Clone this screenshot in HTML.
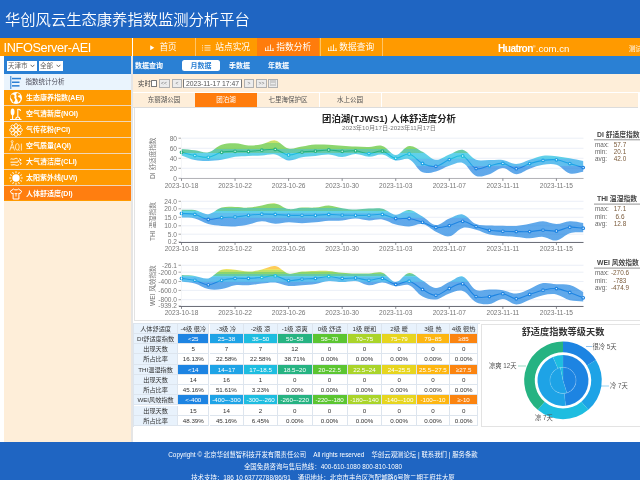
<!DOCTYPE html>
<html lang="zh-CN">
<head>
<meta charset="utf-8">
<title>华创风云生态康养指数监测分析平台</title>
<style>
*{margin:0;padding:0;box-sizing:border-box}
html,body{width:640px;height:480px;overflow:hidden;background:#fff}
body{position:relative;font-family:"Liberation Sans","Noto Sans CJK SC",sans-serif;color:#333}
.a{position:absolute}
#hdr{left:0;top:0;width:640px;height:38px;background:#1f65c2}
#hdr .t{left:5px;top:8px;font-size:15.3px;line-height:20px;color:#fff;white-space:nowrap;font-family:"Noto Sans CJK SC",sans-serif;letter-spacing:0;font-weight:350}
#ob{left:0;top:38px;width:640px;height:18px;background:#ff9a00}
#ob .brand{left:3.5px;top:1px;font-size:12.7px;line-height:18px;color:#fff;white-space:nowrap;letter-spacing:-0.35px}
.nav{top:1px;height:17px;width:62px;color:#fff;font-size:8.7px;line-height:17px;text-align:center;white-space:nowrap;font-family:"Liberation Sans","Noto Sans CJK SC",sans-serif}
.nav.on{background:#ff7c0c;top:0;height:18px;line-height:19px}
.nsep{top:0;width:1px;height:18px;background:#ffc466}
#side{left:4px;top:56px;width:127.3px;height:386px;background:#feeed9}
#selbar{left:4px;top:56px;width:127.6px;height:17.5px;background:#2a80d4}
.sel{top:61px;height:9.5px;background:#fff;font-size:6.5px;line-height:9.5px;color:#333;padding-left:1px;white-space:nowrap}
#stat{left:4px;top:73.5px;width:127.5px;height:16px;background:#eaf4fd}
.mi{left:4px;width:127px;height:15px;background:#ff9a00;color:#fff;font-weight:bold;font-size:7px;line-height:15px;white-space:nowrap}
.mi.on{background:#ff7e10}
.mi span{position:absolute;left:22px;top:0}
.mi svg{position:absolute;left:5px;top:0.6px}
#subnav{left:133px;top:56px;width:507px;height:17.5px;background:#2a80d4}
.sn{top:57px;height:17.5px;line-height:17.5px;font-size:7px;color:#fff;font-weight:bold;white-space:nowrap}
#ctl{left:133px;top:73.5px;width:507px;height:18.5px;background:#feeed9}
#tabs{left:133px;top:92.5px;width:505px;height:15.5px;background:#feeed9;border-bottom:1px solid #dcdcdc}
.tab{top:92.5px;height:14px;line-height:14px;font-size:6.5px;color:#555;text-align:center;white-space:nowrap}
.tab.on{background:#ff7c0c;color:#fff}
.btn{top:79.2px;height:8.4px;background:#ececec;border:0.6px solid #b0b0b0;font-size:5px;line-height:7.4px;text-align:center;color:#777}
#cbox{left:134px;top:108px;width:506px;height:212.5px;background:#fff;border-left:1px solid #e3e3e3;border-bottom:1px solid #e3e3e3}
#ttl{left:135.5px;width:507px;top:111.5px;text-align:center;font-size:9.4px;font-weight:bold;color:#222;line-height:14px;white-space:nowrap}
#sub{left:135.5px;width:507px;top:124px;text-align:center;font-size:6.2px;color:#777;line-height:8px;white-space:nowrap}
svg text{font-family:"Liberation Sans","Noto Sans CJK SC",sans-serif}
.yt{font-size:6.6px;fill:#777;text-anchor:end}
.xt{font-size:6.6px;fill:#777;text-anchor:middle}
.ytt{font-size:6.6px;fill:#777;text-anchor:middle}
.lgt{font-size:6.8px;fill:#444;font-weight:bold}
.lgk{font-size:6.4px;fill:#666}
.lgv{font-size:6.4px;fill:#7a5a3a;text-anchor:middle}
.tc{position:absolute;font-size:6.2px;text-align:center;white-space:nowrap;overflow:hidden;border-right:0.8px solid #dde5ee;border-bottom:0.8px solid #dde5ee}
#tblwrap{left:133px;top:323px;width:347px;height:104px}
#pie{left:481px;top:323.5px;width:159px;height:103.5px;border:1px solid #e3e3e3;border-right:none;background:#fff}
#pieT{left:481px;width:164px;top:325.6px;text-align:center;font-size:9.2px;font-weight:bold;color:#333;line-height:12px;white-space:nowrap}
.pl{font-size:6.3px;fill:#555}
#ftr{left:0;top:442px;width:640px;height:38px;background:#1f65c2}
.fl{left:0;width:646px;text-align:center;color:#fff;font-size:6.4px;line-height:8px;white-space:nowrap}
</style>
</head>
<body>
<div id="hdr" class="a"><div class="t a">华创风云生态康养指数监测分析平台</div></div>

<div id="ob" class="a">
  <div class="brand a">INFOServer-AEI</div>
  <div class="nsep a" style="left:132px;background:#fff"></div>
  <div class="nav a" style="left:133px;width:62px"></div><svg class="a" style="left:150.3px;top:7px" width="4.5" height="5.5" viewBox="0 0 4.5 5.5"><path d="M0.2 0.2L4.3 2.75L0.2 5.3Z" fill="#fff"/></svg><div class="a" style="left:159.4px;top:1px;font-size:8.6px;line-height:17px;color:#fff;white-space:nowrap">首页</div>
  <div class="nsep a" style="left:194.5px"></div>
  <svg class="a" style="left:201.7px;top:7px" width="9" height="6" viewBox="0 0 9 6"><g fill="#fff" opacity="0.9"><rect x="0" y="0.3" width="0.9" height="0.9"/><rect x="0" y="2.5" width="0.9" height="0.9"/><rect x="0" y="4.7" width="0.9" height="0.9"/><rect x="2.5" y="0.3" width="6" height="0.8"/><rect x="2.5" y="2.5" width="6" height="0.8"/><rect x="2.5" y="4.7" width="6" height="0.8"/></g></svg><div class="a" style="left:215.3px;top:1px;font-size:8.7px;line-height:17px;color:#fff;white-space:nowrap">站点实况</div>
  <div class="nsep a" style="left:256.5px"></div>
  <div class="nav a on" style="left:257px"><svg width="9" height="7" viewBox="0 0 9 7" style="vertical-align:-0.5px"><path d="M0.5 7V3.5M3 7V2M5.5 7V0.5M8 7V4M0 6.7H9" stroke="#fff" stroke-width="0.8" fill="none"/></svg> 指数分析</div>
  <div class="nsep a" style="left:319.5px"></div>
  <div class="nav a" style="left:320px"><svg width="9" height="7" viewBox="0 0 9 7" style="vertical-align:-0.5px"><path d="M0.5 7V3.5M3 7V2M5.5 7V0.5M8 7V4M0 6.7H9" stroke="#fff" stroke-width="0.8" fill="none"/></svg> 数据查询</div>
  <div class="nsep a" style="left:381.5px"></div>
  <div class="a" style="left:498px;top:0.3px;line-height:18px;font-size:10px;color:#fff;white-space:nowrap"><b style="font-size:10.2px;letter-spacing:-0.6px">Huatron</b><span style="font-size:4px;vertical-align:4px">&reg;</span><span style="font-size:9.6px">.com.cn</span></div>
  <div class="a" style="left:629px;top:2px;line-height:18px;font-size:6.5px;color:#fff;white-space:nowrap">测试</div>
</div>

<!-- sidebar -->
<div id="side" class="a"></div>
<div id="selbar" class="a"></div>
<div class="sel a" style="left:7px;width:30px;color:#666">天津市<svg width="5" height="4" viewBox="0 0 5 4" style="position:absolute;right:2.5px;top:3px"><path d="M0.6 0.8L2.5 2.8L4.4 0.8" stroke="#555" stroke-width="0.9" fill="none"/></svg></div>
<div class="sel a" style="left:39px;width:24px;color:#666">全部<svg width="5" height="4" viewBox="0 0 5 4" style="position:absolute;right:2.5px;top:3px"><path d="M0.6 0.8L2.5 2.8L4.4 0.8" stroke="#555" stroke-width="0.9" fill="none"/></svg></div>
<div id="stat" class="a">
  <svg class="a" style="left:5.5px;top:2.5px" width="12" height="14" viewBox="0 0 12 14"><rect x="0.3" y="0" width="1" height="13" fill="#2a7fd4"/><rect x="2" y="1.8" width="9" height="1.5" fill="#2a7fd4"/><rect x="2" y="5.5" width="7.5" height="1.5" fill="#2a7fd4"/><rect x="2" y="9.1" width="7.5" height="1.5" fill="#2a7fd4"/></svg>
  <div class="a" style="left:21.5px;top:0.5px;line-height:16px;font-size:6.5px;color:#4a4a58;white-space:nowrap">指数统计分析</div>
</div>
<div class="a" style="left:4px;top:90px;width:127px;height:110.6px;background:#f1d7b6"></div>
<div class="mi a" style="top:90px;height:15.0px"><svg width="14" height="14" viewBox="0 0 14 14"><circle cx="7" cy="7" r="6.1" fill="#fff"/><path d="M2.6 3.6C3.8 3.1 5 3.5 5.5 4.4C5.9 5.3 4.9 5.8 5.3 6.8C5.7 7.8 6.5 8.3 6.1 9.4C5.7 10.4 4.7 10.8 4.3 11.8C3.5 10.8 3.6 9.6 3 8.6C2.4 7.7 1.4 7.2 1.5 6C1.6 5 2 4.2 2.6 3.6Z" fill="#ff9a00"/><path d="M8.2 1.9C9.5 2.2 10.6 2.9 11.3 3.9C10.4 4.3 9.5 4.1 9.1 4.9C8.7 5.7 9.7 6.2 10.5 6.5C11.5 6.9 11.8 7.9 11.3 8.9C10.8 10 9.7 10.4 9.3 11.4C8.6 10.5 8.8 9.3 8.2 8.5C7.6 7.7 7.1 6.9 7.5 5.9C7.9 4.9 7 4 7.2 3C7.4 2.5 7.7 2.1 8.2 1.9Z" fill="#ff9a00"/></svg><span>生态康养指数(AEI)</span></div>
<div class="mi a" style="top:106px;height:15.0px"><svg width="14" height="14" viewBox="0 0 14 14"><ellipse cx="3.6" cy="5" rx="1.9" ry="3.4" fill="#fff"/><path d="M3.6 7v5.2M1 12.5h11.5M8.8 2v8.5M8.8 2.3c1.6-0.4 2.6 0.4 2.6 1.6M6.8 12.3c0-1.6 1-2.3 2-2.3s2 0.7 2 2.3" stroke="#fff" stroke-width="1.1" fill="none"/></svg><span>空气清新度(NOI)</span></div>
<div class="mi a" style="top:122px;height:15.0px"><svg width="14" height="14" viewBox="0 0 14 14"><g fill="#ff9a00" stroke="#fff" stroke-width="0.85"><ellipse cx="7" cy="2.6" rx="1.6" ry="2" transform="rotate(0 7 7)"/><ellipse cx="7" cy="2.6" rx="1.6" ry="2" transform="rotate(45 7 7)"/><ellipse cx="7" cy="2.6" rx="1.6" ry="2" transform="rotate(90 7 7)"/><ellipse cx="7" cy="2.6" rx="1.6" ry="2" transform="rotate(135 7 7)"/><ellipse cx="7" cy="2.6" rx="1.6" ry="2" transform="rotate(180 7 7)"/><ellipse cx="7" cy="2.6" rx="1.6" ry="2" transform="rotate(225 7 7)"/><ellipse cx="7" cy="2.6" rx="1.6" ry="2" transform="rotate(270 7 7)"/><ellipse cx="7" cy="2.6" rx="1.6" ry="2" transform="rotate(315 7 7)"/><circle cx="7" cy="7" r="1.7"/></g></svg><span>气传花粉(PCI)</span></div>
<div class="mi a" style="top:138px;height:15.0px"><svg width="14" height="14" viewBox="0 0 14 14"><g stroke="#fff" stroke-width="0.7" fill="none"><circle cx="3.2" cy="2.6" r="1"/><path d="M0.8 11.5L3.2 4.3L5.6 11.5M1.7 8.8h3"/><ellipse cx="8.3" cy="7.9" rx="1.9" ry="3.3"/><path d="M9.2 10.3l1.2 1.6M12.4 4.6v7"/></g></svg><span>空气质量(AQI)</span></div>
<div class="mi a" style="top:154px;height:15.0px"><svg width="14" height="14" viewBox="0 0 14 14"><g stroke="#fff" stroke-width="1" fill="none"><path d="M1.5 4.2c1.2-1 2.4 0.6 3.8-0.2s2.4-1 3.4 0"/><path d="M1.5 7.2h6.5c1.6 0 2-1.6 0.9-2.2"/><path d="M1.8 9.8c1.4 0.6 3-0.6 4.6 0.2s2.6 0.4 3.6-0.6"/><path d="M10 3.5l2.2 1.5-1.6 1M10.4 7.3l2 1.2-1.4 1"/></g></svg><span>大气清洁度(CLI)</span></div>
<div class="mi a" style="top:170px;height:15.0px"><svg width="14" height="14" viewBox="0 0 14 14"><circle cx="7" cy="7" r="3.7" fill="#fff"/><g stroke="#fff" stroke-width="0.9" stroke-linecap="round"><path d="M7 0.6v1.2" transform="rotate(0 7 7)"/><path d="M7 0.6v1.2" transform="rotate(30 7 7)"/><path d="M7 0.6v1.2" transform="rotate(60 7 7)"/><path d="M7 0.6v1.2" transform="rotate(90 7 7)"/><path d="M7 0.6v1.2" transform="rotate(120 7 7)"/><path d="M7 0.6v1.2" transform="rotate(150 7 7)"/><path d="M7 0.6v1.2" transform="rotate(180 7 7)"/><path d="M7 0.6v1.2" transform="rotate(210 7 7)"/><path d="M7 0.6v1.2" transform="rotate(240 7 7)"/><path d="M7 0.6v1.2" transform="rotate(270 7 7)"/><path d="M7 0.6v1.2" transform="rotate(300 7 7)"/><path d="M7 0.6v1.2" transform="rotate(330 7 7)"/></g></svg><span>太阳紫外线(UVI)</span></div>
<div class="mi a on" style="top:186px;height:14.6px"><svg width="14" height="14" viewBox="0 0 14 14"><path d="M4.6 2L1.3 4.2l1.6 2.6 1.2-0.7V12h5.8V6.1l1.2 0.7 1.6-2.6L9.4 2C8.9 3.2 5.1 3.2 4.6 2z" fill="none" stroke="#fff" stroke-width="1"/><path d="M5.6 6.6h2.8M7 6.6v3" stroke="#fff" stroke-width="0.9"/></svg><span>人体舒适度(DI)</span></div>
<div class="a" style="left:4px;top:200px;width:127px;height:0.8px;background:#ff9a00"></div>
<div class="a" style="left:131.4px;top:56px;width:1.6px;height:386px;background:#e5e5e5"></div>

<!-- main -->
<div id="subnav" class="a"></div>
<div class="sn a" style="left:135px">数据查询</div>
<div class="a" style="left:182px;top:60px;width:38px;height:11px;background:#fff;border-radius:2.5px;color:#2a80d4;font-size:7px;line-height:11px;text-align:center;font-weight:bold;white-space:nowrap">月数据</div>
<div class="sn a" style="left:229px">季数据</div>
<div class="sn a" style="left:268px">年数据</div>

<div id="ctl" class="a"></div>
<div class="a" style="left:138px;top:78.5px;font-size:6.4px;line-height:10px;color:#444;white-space:nowrap">实时</div>
<div class="a" style="left:151px;top:80.3px;width:5.7px;height:6.6px;background:#fff;border:0.7px solid #777;border-radius:0.5px"></div>
<div class="btn a" style="left:158.5px;width:11px">&lt;&lt;</div>
<div class="btn a" style="left:172px;width:10px">&lt;</div>
<div class="a" style="left:183px;top:79px;width:59px;height:8.8px;background:#fff;border:0.6px solid #bbb;border-left:1px solid #777;border-right:1px solid #777;font-size:6.8px;line-height:7.8px;color:#555;text-align:center;white-space:nowrap;overflow:hidden">2023-11-17 17:47</div>
<div class="btn a" style="left:244px;width:10px">&gt;</div>
<div class="btn a" style="left:256px;width:11px">&gt;&gt;</div>
<div class="btn a" style="left:268px;width:10px;font-size:6px;line-height:6px">&#9636;</div>

<div id="tabs" class="a"></div>
<div class="tab a" style="left:133px;width:62px">东丽湖公园</div>
<div class="a" style="left:194.5px;top:92.5px;width:0.8px;height:14px;background:#fff"></div>
<div class="tab a on" style="left:195px;width:62px">团泊湖</div>
<div class="tab a" style="left:257px;width:62px">七里海保护区</div>
<div class="a" style="left:318.5px;top:92.5px;width:0.8px;height:14px;background:#fff"></div>
<div class="tab a" style="left:319px;width:62px">水上公园</div>
<div class="a" style="left:380.5px;top:92.5px;width:0.8px;height:14px;background:#fff"></div>
<div class="a" style="left:133px;top:92px;width:507px;height:0.8px;background:#fff"></div>

<div id="cbox" class="a"></div>
<div id="ttl" class="a" style="font-family:'Liberation Sans','Noto Sans CJK SC',sans-serif">团泊湖(TJWS1) 人体舒适度分析</div>
<div id="sub" class="a">2023年10月17日-2023年11月17日</div>

<svg class="a" style="left:0;top:0" width="640" height="480" viewBox="0 0 640 480">
<defs><linearGradient id="c1a" gradientUnits="userSpaceOnUse" x1="0" y1="120.00" x2="0" y2="320.00"><stop offset="0.0000" stop-color="#fb8410"/><stop offset="0.0790" stop-color="#fb8410"/><stop offset="0.0790" stop-color="#fdb612"/><stop offset="0.0940" stop-color="#fdb612"/><stop offset="0.0940" stop-color="#e7d51f"/><stop offset="0.1040" stop-color="#e7d51f"/><stop offset="0.1040" stop-color="#aad42a"/><stop offset="0.1165" stop-color="#aad42a"/><stop offset="0.1165" stop-color="#5cc531"/><stop offset="0.1465" stop-color="#5cc531"/><stop offset="0.1465" stop-color="#26b382"/><stop offset="0.1665" stop-color="#26b382"/><stop offset="0.1665" stop-color="#1ebde0"/><stop offset="0.1965" stop-color="#1ebde0"/><stop offset="0.1965" stop-color="#1ea3e6"/><stop offset="0.2290" stop-color="#1ea3e6"/><stop offset="0.2290" stop-color="#1d84e2"/><stop offset="1.0000" stop-color="#1d84e2"/></linearGradient></defs>
<line x1="181.5" y1="138.20" x2="583.5" y2="138.20" stroke="#e6ebf5" stroke-width="0.8"/>
<line x1="178.5" y1="138.20" x2="181" y2="138.20" stroke="#888" stroke-width="0.7"/>
<text x="177" y="140.60" class="yt">80</text>
<line x1="181.5" y1="148.30" x2="583.5" y2="148.30" stroke="#e6ebf5" stroke-width="0.8"/>
<line x1="178.5" y1="148.30" x2="181" y2="148.30" stroke="#888" stroke-width="0.7"/>
<text x="177" y="150.70" class="yt">60</text>
<line x1="181.5" y1="158.30" x2="583.5" y2="158.30" stroke="#e6ebf5" stroke-width="0.8"/>
<line x1="178.5" y1="158.30" x2="181" y2="158.30" stroke="#888" stroke-width="0.7"/>
<text x="177" y="160.70" class="yt">40</text>
<line x1="181.5" y1="168.30" x2="583.5" y2="168.30" stroke="#e6ebf5" stroke-width="0.8"/>
<line x1="178.5" y1="168.30" x2="181" y2="168.30" stroke="#888" stroke-width="0.7"/>
<text x="177" y="170.70" class="yt">20</text>
<line x1="181.5" y1="178.30" x2="583.5" y2="178.30" stroke="#e6ebf5" stroke-width="0.8"/>
<line x1="178.5" y1="178.30" x2="181" y2="178.30" stroke="#888" stroke-width="0.7"/>
<text x="177" y="180.70" class="yt">0</text>
<path d="M181.50,148.90 C186.19,149.35 190.22,149.61 194.89,150.20 C199.59,150.80 203.88,153.19 208.28,152.30 C213.26,151.30 216.68,146.48 221.67,144.80 C226.05,143.33 230.39,143.18 235.06,143.30 C239.76,143.42 243.74,145.34 248.45,145.50 C253.12,145.66 257.23,145.08 261.84,144.20 C266.61,143.29 270.83,139.68 275.23,140.40 C280.20,141.22 283.59,147.43 288.62,148.60 C292.96,149.60 297.32,147.30 302.01,146.60 C306.70,145.90 310.69,144.92 315.40,144.60 C320.06,144.29 324.11,144.61 328.79,144.80 C333.48,144.99 337.49,145.38 342.18,145.70 C346.87,146.01 350.88,146.37 355.57,146.60 C360.25,146.83 364.28,147.10 368.96,147.00 C373.65,146.89 378.09,144.73 382.35,146.00 C387.47,147.53 391.05,155.00 395.74,155.00 C400.43,155.00 404.20,146.61 409.13,146.00 C413.58,145.45 418.00,149.37 422.52,151.70 C427.38,154.20 431.03,159.29 435.91,159.80 C440.40,160.27 444.58,156.26 449.30,154.50 C453.95,152.76 458.39,148.95 462.69,149.80 C467.76,150.80 470.88,157.80 476.08,159.80 C480.25,161.40 484.78,160.05 489.47,160.10 C494.16,160.15 498.27,159.43 502.86,160.10 C507.64,160.80 511.58,164.05 516.25,164.00 C520.95,163.95 524.95,161.25 529.64,159.80 C534.32,158.36 538.24,156.39 543.03,155.75 C547.62,155.13 551.76,155.76 556.42,156.20 C561.13,156.64 565.14,157.43 569.81,158.25 C574.51,159.08 578.51,159.97 583.20,160.90 L583.20,171.80 C578.51,172.36 574.11,174.52 569.81,173.40 C564.74,172.07 561.51,166.43 556.42,164.80 C552.14,163.42 547.62,164.13 543.03,164.80 C538.25,165.50 534.24,167.09 529.64,168.70 C524.87,170.38 520.89,174.32 516.25,174.20 C511.52,174.08 507.55,168.00 502.86,168.00 C498.17,168.00 494.36,172.74 489.47,174.20 C484.99,175.54 480.02,177.65 476.08,176.00 C470.64,173.73 468.10,165.06 462.69,163.00 C458.73,161.49 453.85,164.37 449.30,165.80 C444.47,167.31 440.78,170.22 435.91,171.40 C431.41,172.49 426.43,174.08 422.52,172.30 C417.06,169.81 414.59,161.60 409.13,159.20 C405.21,157.47 400.22,161.29 395.74,160.50 C390.85,159.64 387.22,155.17 382.35,154.50 C377.84,153.88 373.63,156.87 368.96,156.80 C364.26,156.73 360.25,154.07 355.57,154.10 C350.88,154.14 346.88,156.93 342.18,157.00 C337.51,157.07 333.50,154.68 328.79,154.50 C324.13,154.33 320.09,155.51 315.40,156.00 C310.72,156.49 306.64,156.52 302.01,157.30 C297.27,158.10 293.16,160.97 288.62,160.50 C283.78,159.99 280.12,155.41 275.23,154.50 C270.75,153.66 266.53,155.24 261.84,155.50 C257.16,155.76 253.13,155.77 248.45,156.00 C243.76,156.23 239.69,156.14 235.06,156.80 C230.32,157.47 226.40,159.06 221.67,159.80 C217.03,160.53 212.97,160.95 208.28,161.00 C203.60,161.05 199.45,161.04 194.89,160.10 C190.08,159.11 186.19,157.11 181.50,155.50 Z" fill="url(#c1a)" fill-opacity="0.7"/>
<path d="M181.50,152.30 C186.19,153.42 190.16,154.62 194.89,155.50 C199.53,156.37 203.73,157.84 208.28,157.30 C213.10,156.72 216.84,153.38 221.67,152.30 C226.21,151.28 230.37,151.44 235.06,151.30 C239.74,151.16 243.77,151.69 248.45,151.50 C253.15,151.31 257.15,150.57 261.84,150.20 C266.52,149.83 270.73,148.59 275.23,149.40 C280.10,150.27 283.80,154.51 288.62,155.00 C293.17,155.46 297.28,152.79 302.01,152.10 C306.65,151.42 310.71,151.47 315.40,151.10 C320.09,150.73 324.11,149.97 328.79,150.00 C333.48,150.04 337.48,151.16 342.18,151.30 C346.86,151.44 350.93,150.40 355.57,150.80 C360.31,151.21 364.26,153.55 368.96,153.60 C373.64,153.65 377.92,150.32 382.35,151.10 C387.29,151.97 390.87,157.77 395.74,158.30 C400.24,158.79 404.81,153.16 409.13,154.00 C414.18,154.98 417.41,161.15 422.52,163.50 C426.78,165.46 431.44,166.95 435.91,166.30 C440.81,165.59 444.43,161.47 449.30,159.60 C453.81,157.87 458.66,154.65 462.69,156.00 C468.03,157.80 470.71,166.63 476.08,168.60 C480.08,170.06 484.77,166.71 489.47,165.80 C494.14,164.89 498.31,162.91 502.86,163.40 C507.68,163.92 511.55,168.66 516.25,168.70 C520.92,168.73 524.86,165.08 529.64,163.60 C534.23,162.18 538.28,161.07 543.03,160.40 C547.65,159.74 551.82,159.25 556.42,159.80 C561.19,160.37 565.13,162.24 569.81,163.60 C574.51,164.97 578.51,166.20 583.20,167.60" fill="none" stroke="url(#c1a)" stroke-width="1.1"/>
<circle cx="181.50" cy="152.30" r="1.3" fill="#fff" stroke="#26b382" stroke-width="1.2"/>
<circle cx="194.89" cy="155.50" r="1.3" fill="#fff" stroke="#1ebde0" stroke-width="1.2"/>
<circle cx="208.28" cy="157.30" r="1.3" fill="#fff" stroke="#1ebde0" stroke-width="1.2"/>
<circle cx="221.67" cy="152.30" r="1.3" fill="#fff" stroke="#26b382" stroke-width="1.2"/>
<circle cx="235.06" cy="151.30" r="1.3" fill="#fff" stroke="#26b382" stroke-width="1.2"/>
<circle cx="248.45" cy="151.50" r="1.3" fill="#fff" stroke="#26b382" stroke-width="1.2"/>
<circle cx="261.84" cy="150.20" r="1.3" fill="#fff" stroke="#26b382" stroke-width="1.2"/>
<circle cx="275.23" cy="149.40" r="1.3" fill="#fff" stroke="#26b382" stroke-width="1.2"/>
<circle cx="288.62" cy="155.00" r="1.3" fill="#fff" stroke="#1ebde0" stroke-width="1.2"/>
<circle cx="302.01" cy="152.10" r="1.3" fill="#fff" stroke="#26b382" stroke-width="1.2"/>
<circle cx="315.40" cy="151.10" r="1.3" fill="#fff" stroke="#26b382" stroke-width="1.2"/>
<circle cx="328.79" cy="150.00" r="1.3" fill="#fff" stroke="#26b382" stroke-width="1.2"/>
<circle cx="342.18" cy="151.30" r="1.3" fill="#fff" stroke="#26b382" stroke-width="1.2"/>
<circle cx="355.57" cy="150.80" r="1.3" fill="#fff" stroke="#26b382" stroke-width="1.2"/>
<circle cx="368.96" cy="153.60" r="1.3" fill="#fff" stroke="#1ebde0" stroke-width="1.2"/>
<circle cx="382.35" cy="151.10" r="1.3" fill="#fff" stroke="#26b382" stroke-width="1.2"/>
<circle cx="395.74" cy="158.30" r="1.3" fill="#fff" stroke="#1ebde0" stroke-width="1.2"/>
<circle cx="409.13" cy="154.00" r="1.3" fill="#fff" stroke="#1ebde0" stroke-width="1.2"/>
<circle cx="422.52" cy="163.50" r="1.3" fill="#fff" stroke="#1ea3e6" stroke-width="1.2"/>
<circle cx="435.91" cy="166.30" r="1.3" fill="#fff" stroke="#1d84e2" stroke-width="1.2"/>
<circle cx="449.30" cy="159.60" r="1.3" fill="#fff" stroke="#1ea3e6" stroke-width="1.2"/>
<circle cx="462.69" cy="156.00" r="1.3" fill="#fff" stroke="#1ebde0" stroke-width="1.2"/>
<circle cx="476.08" cy="168.60" r="1.3" fill="#fff" stroke="#1d84e2" stroke-width="1.2"/>
<circle cx="489.47" cy="165.80" r="1.3" fill="#fff" stroke="#1ea3e6" stroke-width="1.2"/>
<circle cx="502.86" cy="163.40" r="1.3" fill="#fff" stroke="#1ea3e6" stroke-width="1.2"/>
<circle cx="516.25" cy="168.70" r="1.3" fill="#fff" stroke="#1d84e2" stroke-width="1.2"/>
<circle cx="529.64" cy="163.60" r="1.3" fill="#fff" stroke="#1ea3e6" stroke-width="1.2"/>
<circle cx="543.03" cy="160.40" r="1.3" fill="#fff" stroke="#1ea3e6" stroke-width="1.2"/>
<circle cx="556.42" cy="159.80" r="1.3" fill="#fff" stroke="#1ea3e6" stroke-width="1.2"/>
<circle cx="569.81" cy="163.60" r="1.3" fill="#fff" stroke="#1ea3e6" stroke-width="1.2"/>
<circle cx="583.20" cy="167.60" r="1.3" fill="#fff" stroke="#1d84e2" stroke-width="1.2"/>
<line x1="179" y1="178.50" x2="583.5" y2="178.50" stroke="#b4b4b8" stroke-width="1"/>
<line x1="181.5" y1="138.20" x2="181.5" y2="178.30" stroke="#eef0f4" stroke-width="0.6"/>
<line x1="181.50" y1="178.50" x2="181.50" y2="180.90" stroke="#6e7079" stroke-width="0.8"/>
<text x="181.50" y="187.60" class="xt">2023-10-18</text>
<line x1="235.06" y1="178.50" x2="235.06" y2="180.90" stroke="#6e7079" stroke-width="0.8"/>
<text x="235.06" y="187.60" class="xt">2023-10-22</text>
<line x1="288.62" y1="178.50" x2="288.62" y2="180.90" stroke="#6e7079" stroke-width="0.8"/>
<text x="288.62" y="187.60" class="xt">2023-10-26</text>
<line x1="342.18" y1="178.50" x2="342.18" y2="180.90" stroke="#6e7079" stroke-width="0.8"/>
<text x="342.18" y="187.60" class="xt">2023-10-30</text>
<line x1="395.74" y1="178.50" x2="395.74" y2="180.90" stroke="#6e7079" stroke-width="0.8"/>
<text x="395.74" y="187.60" class="xt">2023-11-03</text>
<line x1="449.30" y1="178.50" x2="449.30" y2="180.90" stroke="#6e7079" stroke-width="0.8"/>
<text x="449.30" y="187.60" class="xt">2023-11-07</text>
<line x1="502.86" y1="178.50" x2="502.86" y2="180.90" stroke="#6e7079" stroke-width="0.8"/>
<text x="502.86" y="187.60" class="xt">2023-11-11</text>
<line x1="556.42" y1="178.50" x2="556.42" y2="180.90" stroke="#6e7079" stroke-width="0.8"/>
<text x="556.42" y="187.60" class="xt">2023-11-15</text>
<text x="0" y="0" class="ytt" transform="translate(154.5,158.25) rotate(-90)">DI 舒适度指数</text>
<text x="597" y="137.00" class="lgt">DI 舒适度指数</text>
<line x1="594" y1="139.80" x2="640" y2="139.80" stroke="#777" stroke-width="0.8"/>
<text x="595" y="146.90" class="lgk">max:</text><text x="620" y="146.90" class="lgv">57.7</text>
<text x="595" y="154.20" class="lgk">min:</text><text x="620" y="154.20" class="lgv">20.1</text>
<text x="595" y="161.30" class="lgk">avg:</text><text x="620" y="161.30" class="lgv">42.0</text>
<defs><linearGradient id="c2a" gradientUnits="userSpaceOnUse" x1="0" y1="120.00" x2="0" y2="320.00"><stop offset="0.0000" stop-color="#fb8410"/><stop offset="0.3763" stop-color="#fb8410"/><stop offset="0.3763" stop-color="#fdb612"/><stop offset="0.3934" stop-color="#fdb612"/><stop offset="0.3934" stop-color="#e7d51f"/><stop offset="0.4063" stop-color="#e7d51f"/><stop offset="0.4063" stop-color="#aad42a"/><stop offset="0.4191" stop-color="#aad42a"/><stop offset="0.4191" stop-color="#5cc531"/><stop offset="0.4405" stop-color="#5cc531"/><stop offset="0.4405" stop-color="#26b382"/><stop offset="0.4534" stop-color="#26b382"/><stop offset="0.4534" stop-color="#1ebde0"/><stop offset="0.4662" stop-color="#1ebde0"/><stop offset="0.4662" stop-color="#1ea3e6"/><stop offset="0.4919" stop-color="#1ea3e6"/><stop offset="0.4919" stop-color="#1d84e2"/><stop offset="1.0000" stop-color="#1d84e2"/></linearGradient></defs>
<line x1="181.5" y1="201.30" x2="583.5" y2="201.30" stroke="#e6ebf5" stroke-width="0.8"/>
<line x1="178.5" y1="201.30" x2="181" y2="201.30" stroke="#888" stroke-width="0.7"/>
<text x="177" y="203.70" class="yt">24.0</text>
<line x1="181.5" y1="208.80" x2="583.5" y2="208.80" stroke="#e6ebf5" stroke-width="0.8"/>
<line x1="178.5" y1="208.80" x2="181" y2="208.80" stroke="#888" stroke-width="0.7"/>
<text x="177" y="211.20" class="yt">20.0</text>
<line x1="181.5" y1="217.30" x2="583.5" y2="217.30" stroke="#e6ebf5" stroke-width="0.8"/>
<line x1="178.5" y1="217.30" x2="181" y2="217.30" stroke="#888" stroke-width="0.7"/>
<text x="177" y="219.70" class="yt">15.0</text>
<line x1="181.5" y1="225.80" x2="583.5" y2="225.80" stroke="#e6ebf5" stroke-width="0.8"/>
<line x1="178.5" y1="225.80" x2="181" y2="225.80" stroke="#888" stroke-width="0.7"/>
<text x="177" y="228.20" class="yt">10.0</text>
<line x1="181.5" y1="234.20" x2="583.5" y2="234.20" stroke="#e6ebf5" stroke-width="0.8"/>
<line x1="178.5" y1="234.20" x2="181" y2="234.20" stroke="#888" stroke-width="0.7"/>
<text x="177" y="236.60" class="yt">5.0</text>
<line x1="181.5" y1="242.00" x2="583.5" y2="242.00" stroke="#e6ebf5" stroke-width="0.8"/>
<line x1="178.5" y1="242.00" x2="181" y2="242.00" stroke="#888" stroke-width="0.7"/>
<text x="177" y="244.40" class="yt">0.2</text>
<path d="M181.50,209.70 C186.19,209.84 190.31,209.33 194.89,210.10 C199.68,210.90 203.74,214.62 208.28,214.20 C213.12,213.75 216.73,208.95 221.67,207.60 C226.11,206.39 230.37,206.90 235.06,206.90 C239.75,206.90 243.79,207.86 248.45,207.60 C253.16,207.34 257.15,206.12 261.84,205.40 C266.52,204.68 270.71,202.88 275.23,203.50 C280.08,204.17 283.76,208.36 288.62,209.10 C293.13,209.79 297.31,207.86 302.01,207.60 C306.68,207.34 310.74,207.98 315.40,207.60 C320.12,207.21 324.12,205.30 328.79,205.40 C333.50,205.51 337.45,207.48 342.18,208.20 C346.83,208.91 350.88,209.43 355.57,209.50 C360.25,209.57 364.27,208.72 368.96,208.60 C373.64,208.48 377.88,207.76 382.35,208.80 C387.25,209.93 390.98,214.57 395.74,214.80 C400.35,215.02 404.56,209.79 409.13,210.10 C413.93,210.42 417.98,214.06 422.52,216.60 C427.36,219.31 431.08,224.76 435.91,225.10 C440.45,225.42 444.46,220.43 449.30,218.50 C453.84,216.69 458.39,213.50 462.69,214.40 C467.76,215.46 470.92,221.94 476.08,224.10 C480.29,225.86 484.77,225.32 489.47,225.60 C494.14,225.88 498.17,225.63 502.86,225.70 C507.55,225.77 511.59,226.33 516.25,226.00 C520.97,225.67 524.96,224.62 529.64,223.80 C534.34,222.98 538.35,221.25 543.03,221.30 C547.73,221.35 551.73,224.10 556.42,224.10 C561.11,224.10 565.09,221.51 569.81,221.30 C574.46,221.09 578.51,222.34 583.20,222.90 L583.20,232.25 C578.51,232.58 574.20,231.85 569.81,233.20 C564.82,234.74 561.33,239.82 556.42,240.50 C551.96,241.12 547.79,237.31 543.03,236.90 C538.41,236.50 534.33,238.20 529.64,238.20 C524.95,238.20 520.94,237.29 516.25,236.90 C511.57,236.52 507.54,236.42 502.86,236.00 C498.16,235.58 494.04,235.56 489.47,234.50 C484.66,233.39 480.88,230.98 476.08,229.80 C471.51,228.67 467.01,226.85 462.69,227.90 C457.64,229.13 454.24,235.60 449.30,236.30 C444.87,236.93 440.40,233.75 435.91,231.70 C431.03,229.48 427.50,225.09 422.52,224.10 C418.13,223.23 413.83,226.31 409.13,226.40 C404.46,226.49 400.29,225.77 395.74,224.60 C390.92,223.36 387.19,220.26 382.35,219.50 C377.82,218.79 373.63,220.57 368.96,220.40 C364.26,220.22 360.26,218.50 355.57,218.50 C350.88,218.50 346.89,220.00 342.18,220.40 C337.52,220.80 333.46,220.47 328.79,220.80 C324.09,221.13 320.10,221.88 315.40,222.30 C310.72,222.72 306.70,223.20 302.01,223.20 C297.32,223.20 293.30,222.20 288.62,222.30 C283.92,222.41 279.89,223.97 275.23,223.80 C270.52,223.62 266.50,221.18 261.84,221.30 C257.13,221.42 253.18,223.60 248.45,224.50 C243.81,225.38 239.77,226.14 235.06,226.40 C230.40,226.66 226.33,226.40 221.67,226.00 C216.96,225.60 212.80,225.37 208.28,224.10 C203.43,222.74 199.76,219.68 194.89,218.50 C190.39,217.41 186.19,217.91 181.50,217.60 Z" fill="url(#c2a)" fill-opacity="0.7"/>
<path d="M181.50,213.40 C186.19,213.75 190.36,213.37 194.89,214.40 C199.73,215.50 203.46,218.92 208.28,219.50 C212.83,220.04 216.96,218.04 221.67,217.60 C226.34,217.16 230.39,217.40 235.06,217.00 C239.76,216.60 243.75,215.79 248.45,215.30 C253.13,214.81 257.15,214.36 261.84,214.20 C266.52,214.04 270.55,214.21 275.23,214.40 C279.92,214.59 283.93,215.14 288.62,215.30 C293.30,215.46 297.32,215.30 302.01,215.30 C306.70,215.30 310.72,215.46 315.40,215.30 C320.09,215.14 324.10,214.44 328.79,214.40 C333.47,214.37 337.49,214.94 342.18,215.10 C346.86,215.26 350.88,215.26 355.57,215.30 C360.26,215.33 364.28,215.46 368.96,215.30 C373.65,215.14 377.76,213.85 382.35,214.40 C387.14,214.97 390.95,217.77 395.74,218.50 C400.32,219.20 404.53,217.85 409.13,218.50 C413.91,219.18 417.91,220.75 422.52,222.30 C427.28,223.90 431.08,226.91 435.91,227.50 C440.46,228.06 444.71,226.66 449.30,225.60 C454.08,224.49 458.06,221.13 462.69,221.30 C467.43,221.48 471.31,225.00 476.08,226.60 C480.68,228.15 484.70,229.46 489.47,230.30 C494.08,231.11 498.17,231.07 502.86,231.30 C507.54,231.53 511.56,231.55 516.25,231.60 C520.94,231.65 524.97,231.86 529.64,231.60 C534.34,231.34 538.33,230.21 543.03,230.10 C547.71,230.00 551.82,231.49 556.42,231.00 C561.19,230.49 565.04,227.75 569.81,227.25 C574.41,226.77 578.51,227.87 583.20,228.20" fill="none" stroke="url(#c2a)" stroke-width="1.1"/>
<circle cx="181.50" cy="213.40" r="1.3" fill="#fff" stroke="#1ea3e6" stroke-width="1.2"/>
<circle cx="194.89" cy="214.40" r="1.3" fill="#fff" stroke="#1ea3e6" stroke-width="1.2"/>
<circle cx="208.28" cy="219.50" r="1.3" fill="#fff" stroke="#1d84e2" stroke-width="1.2"/>
<circle cx="221.67" cy="217.60" r="1.3" fill="#fff" stroke="#1ea3e6" stroke-width="1.2"/>
<circle cx="235.06" cy="217.00" r="1.3" fill="#fff" stroke="#1ea3e6" stroke-width="1.2"/>
<circle cx="248.45" cy="215.30" r="1.3" fill="#fff" stroke="#1ea3e6" stroke-width="1.2"/>
<circle cx="261.84" cy="214.20" r="1.3" fill="#fff" stroke="#1ea3e6" stroke-width="1.2"/>
<circle cx="275.23" cy="214.40" r="1.3" fill="#fff" stroke="#1ea3e6" stroke-width="1.2"/>
<circle cx="288.62" cy="215.30" r="1.3" fill="#fff" stroke="#1ea3e6" stroke-width="1.2"/>
<circle cx="302.01" cy="215.30" r="1.3" fill="#fff" stroke="#1ea3e6" stroke-width="1.2"/>
<circle cx="315.40" cy="215.30" r="1.3" fill="#fff" stroke="#1ea3e6" stroke-width="1.2"/>
<circle cx="328.79" cy="214.40" r="1.3" fill="#fff" stroke="#1ea3e6" stroke-width="1.2"/>
<circle cx="342.18" cy="215.10" r="1.3" fill="#fff" stroke="#1ea3e6" stroke-width="1.2"/>
<circle cx="355.57" cy="215.30" r="1.3" fill="#fff" stroke="#1ea3e6" stroke-width="1.2"/>
<circle cx="368.96" cy="215.30" r="1.3" fill="#fff" stroke="#1ea3e6" stroke-width="1.2"/>
<circle cx="382.35" cy="214.40" r="1.3" fill="#fff" stroke="#1ea3e6" stroke-width="1.2"/>
<circle cx="395.74" cy="218.50" r="1.3" fill="#fff" stroke="#1d84e2" stroke-width="1.2"/>
<circle cx="409.13" cy="218.50" r="1.3" fill="#fff" stroke="#1d84e2" stroke-width="1.2"/>
<circle cx="422.52" cy="222.30" r="1.3" fill="#fff" stroke="#1d84e2" stroke-width="1.2"/>
<circle cx="435.91" cy="227.50" r="1.3" fill="#fff" stroke="#1d84e2" stroke-width="1.2"/>
<circle cx="449.30" cy="225.60" r="1.3" fill="#fff" stroke="#1d84e2" stroke-width="1.2"/>
<circle cx="462.69" cy="221.30" r="1.3" fill="#fff" stroke="#1d84e2" stroke-width="1.2"/>
<circle cx="476.08" cy="226.60" r="1.3" fill="#fff" stroke="#1d84e2" stroke-width="1.2"/>
<circle cx="489.47" cy="230.30" r="1.3" fill="#fff" stroke="#1d84e2" stroke-width="1.2"/>
<circle cx="502.86" cy="231.30" r="1.3" fill="#fff" stroke="#1d84e2" stroke-width="1.2"/>
<circle cx="516.25" cy="231.60" r="1.3" fill="#fff" stroke="#1d84e2" stroke-width="1.2"/>
<circle cx="529.64" cy="231.60" r="1.3" fill="#fff" stroke="#1d84e2" stroke-width="1.2"/>
<circle cx="543.03" cy="230.10" r="1.3" fill="#fff" stroke="#1d84e2" stroke-width="1.2"/>
<circle cx="556.42" cy="231.00" r="1.3" fill="#fff" stroke="#1d84e2" stroke-width="1.2"/>
<circle cx="569.81" cy="227.25" r="1.3" fill="#fff" stroke="#1d84e2" stroke-width="1.2"/>
<circle cx="583.20" cy="228.20" r="1.3" fill="#fff" stroke="#1d84e2" stroke-width="1.2"/>
<line x1="179" y1="242.50" x2="583.5" y2="242.50" stroke="#6e7079" stroke-width="1"/>
<line x1="181.5" y1="201.30" x2="181.5" y2="242.00" stroke="#eef0f4" stroke-width="0.6"/>
<line x1="181.50" y1="242.50" x2="181.50" y2="244.90" stroke="#6e7079" stroke-width="0.8"/>
<text x="181.50" y="251.00" class="xt">2023-10-18</text>
<line x1="235.06" y1="242.50" x2="235.06" y2="244.90" stroke="#6e7079" stroke-width="0.8"/>
<text x="235.06" y="251.00" class="xt">2023-10-22</text>
<line x1="288.62" y1="242.50" x2="288.62" y2="244.90" stroke="#6e7079" stroke-width="0.8"/>
<text x="288.62" y="251.00" class="xt">2023-10-26</text>
<line x1="342.18" y1="242.50" x2="342.18" y2="244.90" stroke="#6e7079" stroke-width="0.8"/>
<text x="342.18" y="251.00" class="xt">2023-10-30</text>
<line x1="395.74" y1="242.50" x2="395.74" y2="244.90" stroke="#6e7079" stroke-width="0.8"/>
<text x="395.74" y="251.00" class="xt">2023-11-03</text>
<line x1="449.30" y1="242.50" x2="449.30" y2="244.90" stroke="#6e7079" stroke-width="0.8"/>
<text x="449.30" y="251.00" class="xt">2023-11-07</text>
<line x1="502.86" y1="242.50" x2="502.86" y2="244.90" stroke="#6e7079" stroke-width="0.8"/>
<text x="502.86" y="251.00" class="xt">2023-11-11</text>
<line x1="556.42" y1="242.50" x2="556.42" y2="244.90" stroke="#6e7079" stroke-width="0.8"/>
<text x="556.42" y="251.00" class="xt">2023-11-15</text>
<text x="0" y="0" class="ytt" transform="translate(154.5,221.65) rotate(-90)">THI 温湿指数</text>
<text x="597" y="201.30" class="lgt">THI 温湿指数</text>
<line x1="594" y1="204.10" x2="640" y2="204.10" stroke="#777" stroke-width="0.8"/>
<text x="595" y="211.20" class="lgk">max:</text><text x="620" y="211.20" class="lgv">17.1</text>
<text x="595" y="218.50" class="lgk">min:</text><text x="620" y="218.50" class="lgv">6.6</text>
<text x="595" y="225.60" class="lgk">avg:</text><text x="620" y="225.60" class="lgv">12.8</text>
<defs><linearGradient id="c3a" gradientUnits="userSpaceOnUse" x1="0" y1="120.00" x2="0" y2="320.00"><stop offset="0.0000" stop-color="#fb8410"/><stop offset="0.7227" stop-color="#fb8410"/><stop offset="0.7227" stop-color="#fdb612"/><stop offset="0.7427" stop-color="#fdb612"/><stop offset="0.7427" stop-color="#e7d51f"/><stop offset="0.7517" stop-color="#e7d51f"/><stop offset="0.7517" stop-color="#aad42a"/><stop offset="0.7606" stop-color="#aad42a"/><stop offset="0.7606" stop-color="#5cc531"/><stop offset="0.7695" stop-color="#5cc531"/><stop offset="0.7695" stop-color="#26b382"/><stop offset="0.7784" stop-color="#26b382"/><stop offset="0.7784" stop-color="#1ebde0"/><stop offset="0.7874" stop-color="#1ebde0"/><stop offset="0.7874" stop-color="#1ea3e6"/><stop offset="0.8097" stop-color="#1ea3e6"/><stop offset="0.8097" stop-color="#1d84e2"/><stop offset="1.0000" stop-color="#1d84e2"/></linearGradient></defs>
<line x1="181.5" y1="265.25" x2="583.5" y2="265.25" stroke="#e6ebf5" stroke-width="0.8"/>
<line x1="178.5" y1="265.25" x2="181" y2="265.25" stroke="#888" stroke-width="0.7"/>
<text x="177" y="267.65" class="yt">-26.1</text>
<line x1="181.5" y1="272.20" x2="583.5" y2="272.20" stroke="#e6ebf5" stroke-width="0.8"/>
<line x1="178.5" y1="272.20" x2="181" y2="272.20" stroke="#888" stroke-width="0.7"/>
<text x="177" y="274.60" class="yt">-200.0</text>
<line x1="181.5" y1="281.50" x2="583.5" y2="281.50" stroke="#e6ebf5" stroke-width="0.8"/>
<line x1="178.5" y1="281.50" x2="181" y2="281.50" stroke="#888" stroke-width="0.7"/>
<text x="177" y="283.90" class="yt">-400.0</text>
<line x1="181.5" y1="290.40" x2="583.5" y2="290.40" stroke="#e6ebf5" stroke-width="0.8"/>
<line x1="178.5" y1="290.40" x2="181" y2="290.40" stroke="#888" stroke-width="0.7"/>
<text x="177" y="292.80" class="yt">-600.0</text>
<line x1="181.5" y1="299.70" x2="583.5" y2="299.70" stroke="#e6ebf5" stroke-width="0.8"/>
<line x1="178.5" y1="299.70" x2="181" y2="299.70" stroke="#888" stroke-width="0.7"/>
<text x="177" y="302.10" class="yt">-800.0</text>
<line x1="181.5" y1="306.00" x2="583.5" y2="306.00" stroke="#e6ebf5" stroke-width="0.8"/>
<line x1="178.5" y1="306.00" x2="181" y2="306.00" stroke="#888" stroke-width="0.7"/>
<text x="177" y="308.40" class="yt">-939.2</text>
<path d="M181.50,275.00 C186.19,275.31 190.24,275.31 194.89,275.90 C199.61,276.50 203.96,279.39 208.28,278.40 C213.33,277.24 216.58,271.40 221.67,269.75 C225.95,268.37 230.40,269.43 235.06,269.75 C239.77,270.08 243.77,271.66 248.45,271.60 C253.15,271.54 257.20,270.37 261.84,269.40 C266.57,268.41 270.79,265.32 275.23,266.00 C280.16,266.76 283.64,272.46 288.62,273.50 C293.01,274.42 297.30,272.06 302.01,271.60 C306.68,271.15 310.71,271.02 315.40,270.90 C320.08,270.78 324.13,270.58 328.79,270.90 C333.50,271.23 337.48,272.29 342.18,272.75 C346.85,273.20 350.88,273.37 355.57,273.50 C360.25,273.63 364.28,273.63 368.96,273.50 C373.65,273.37 378.12,271.39 382.35,272.75 C387.50,274.40 391.02,282.04 395.74,282.10 C400.40,282.16 404.33,273.37 409.13,273.10 C413.70,272.84 417.83,277.98 422.52,280.60 C427.21,283.23 431.12,287.83 435.91,288.10 C440.49,288.36 444.59,284.14 449.30,282.10 C453.96,280.08 458.63,275.30 462.69,276.50 C468.01,278.07 470.58,287.31 476.08,290.00 C479.95,291.90 484.79,289.55 489.47,289.60 C494.16,289.65 498.24,289.61 502.86,290.30 C507.61,291.01 511.63,293.84 516.25,293.60 C521.00,293.35 525.02,290.71 529.64,288.90 C534.39,287.04 538.15,283.96 543.03,283.10 C547.52,282.31 551.73,283.87 556.42,284.20 C561.10,284.53 565.40,283.72 569.81,285.00 C574.78,286.45 578.51,289.55 583.20,292.00 L583.20,301.40 C578.51,301.01 574.30,301.47 569.81,300.30 C564.92,299.02 561.31,295.33 556.42,294.40 C551.94,293.55 547.59,294.28 543.03,295.20 C538.22,296.17 534.32,298.17 529.64,299.80 C524.95,301.43 520.89,304.64 516.25,304.50 C511.52,304.36 507.57,299.07 502.86,299.00 C498.20,298.93 494.29,303.52 489.47,304.10 C484.92,304.64 480.17,304.20 476.08,302.20 C470.80,299.62 467.96,292.73 462.69,291.00 C458.58,289.65 453.81,291.99 449.30,293.40 C444.44,294.93 440.76,298.82 435.91,299.40 C431.39,299.94 426.63,298.76 422.52,296.60 C417.26,293.83 414.44,287.34 409.13,285.30 C405.06,283.74 400.34,286.78 395.74,286.30 C390.97,285.80 387.08,282.68 382.35,282.50 C377.70,282.33 373.58,285.56 368.96,285.30 C364.21,285.03 360.36,281.57 355.57,281.00 C350.99,280.45 346.87,282.10 342.18,282.10 C337.49,282.10 333.43,280.67 328.79,281.00 C324.05,281.34 320.13,283.24 315.40,284.00 C310.76,284.75 306.71,284.97 302.01,285.30 C297.33,285.63 293.24,286.38 288.62,285.90 C283.86,285.40 279.98,282.93 275.23,282.50 C270.61,282.09 266.51,283.01 261.84,283.50 C257.14,283.99 253.16,284.98 248.45,285.30 C243.78,285.61 239.66,284.65 235.06,285.30 C230.28,285.98 226.45,288.42 221.67,289.10 C217.07,289.75 212.78,290.04 208.28,289.10 C203.40,288.08 199.74,284.86 194.89,283.50 C190.37,282.23 186.19,282.27 181.50,281.60 Z" fill="url(#c3a)" fill-opacity="0.7"/>
<path d="M181.50,278.40 C186.19,279.06 190.31,279.20 194.89,280.30 C199.68,281.44 203.59,284.80 208.28,284.80 C212.97,284.80 216.88,281.44 221.67,280.30 C226.25,279.20 230.35,278.73 235.06,278.40 C239.72,278.07 243.77,278.57 248.45,278.40 C253.14,278.23 257.16,277.89 261.84,277.45 C266.54,277.01 270.66,275.36 275.23,275.90 C280.04,276.47 283.81,280.03 288.62,280.60 C293.19,281.15 297.31,279.49 302.01,279.10 C306.69,278.72 310.73,278.85 315.40,278.40 C320.11,277.94 324.10,276.50 328.79,276.50 C333.48,276.50 337.47,278.14 342.18,278.40 C346.84,278.66 350.92,277.67 355.57,278.00 C360.29,278.33 364.26,280.23 368.96,280.30 C373.64,280.37 377.85,277.71 382.35,278.40 C387.23,279.15 390.90,283.89 395.74,284.40 C400.28,284.87 404.76,280.37 409.13,281.20 C414.13,282.14 417.66,286.89 422.52,289.45 C427.03,291.83 431.29,295.46 435.91,295.30 C440.66,295.13 444.48,290.57 449.30,288.50 C453.85,286.54 458.62,282.57 462.69,283.80 C468.00,285.41 470.64,294.00 476.08,296.60 C480.01,298.48 484.84,297.10 489.47,296.60 C494.21,296.09 498.28,293.33 502.86,293.70 C507.65,294.08 511.53,298.63 516.25,298.75 C520.90,298.87 524.95,295.90 529.64,294.40 C534.32,292.91 538.25,291.24 543.03,290.20 C547.62,289.21 551.81,288.20 556.42,288.60 C561.19,289.01 565.20,290.92 569.81,292.50 C574.57,294.14 578.51,295.94 583.20,297.80" fill="none" stroke="url(#c3a)" stroke-width="1.1"/>
<circle cx="181.50" cy="278.40" r="1.3" fill="#fff" stroke="#1ea3e6" stroke-width="1.2"/>
<circle cx="194.89" cy="280.30" r="1.3" fill="#fff" stroke="#1ea3e6" stroke-width="1.2"/>
<circle cx="208.28" cy="284.80" r="1.3" fill="#fff" stroke="#1d84e2" stroke-width="1.2"/>
<circle cx="221.67" cy="280.30" r="1.3" fill="#fff" stroke="#1ea3e6" stroke-width="1.2"/>
<circle cx="235.06" cy="278.40" r="1.3" fill="#fff" stroke="#1ea3e6" stroke-width="1.2"/>
<circle cx="248.45" cy="278.40" r="1.3" fill="#fff" stroke="#1ea3e6" stroke-width="1.2"/>
<circle cx="261.84" cy="277.45" r="1.3" fill="#fff" stroke="#1ebde0" stroke-width="1.2"/>
<circle cx="275.23" cy="275.90" r="1.3" fill="#fff" stroke="#1ebde0" stroke-width="1.2"/>
<circle cx="288.62" cy="280.60" r="1.3" fill="#fff" stroke="#1ea3e6" stroke-width="1.2"/>
<circle cx="302.01" cy="279.10" r="1.3" fill="#fff" stroke="#1ea3e6" stroke-width="1.2"/>
<circle cx="315.40" cy="278.40" r="1.3" fill="#fff" stroke="#1ea3e6" stroke-width="1.2"/>
<circle cx="328.79" cy="276.50" r="1.3" fill="#fff" stroke="#1ebde0" stroke-width="1.2"/>
<circle cx="342.18" cy="278.40" r="1.3" fill="#fff" stroke="#1ea3e6" stroke-width="1.2"/>
<circle cx="355.57" cy="278.00" r="1.3" fill="#fff" stroke="#1ea3e6" stroke-width="1.2"/>
<circle cx="368.96" cy="280.30" r="1.3" fill="#fff" stroke="#1ea3e6" stroke-width="1.2"/>
<circle cx="382.35" cy="278.40" r="1.3" fill="#fff" stroke="#1ea3e6" stroke-width="1.2"/>
<circle cx="395.74" cy="284.40" r="1.3" fill="#fff" stroke="#1d84e2" stroke-width="1.2"/>
<circle cx="409.13" cy="281.20" r="1.3" fill="#fff" stroke="#1ea3e6" stroke-width="1.2"/>
<circle cx="422.52" cy="289.45" r="1.3" fill="#fff" stroke="#1d84e2" stroke-width="1.2"/>
<circle cx="435.91" cy="295.30" r="1.3" fill="#fff" stroke="#1d84e2" stroke-width="1.2"/>
<circle cx="449.30" cy="288.50" r="1.3" fill="#fff" stroke="#1d84e2" stroke-width="1.2"/>
<circle cx="462.69" cy="283.80" r="1.3" fill="#fff" stroke="#1d84e2" stroke-width="1.2"/>
<circle cx="476.08" cy="296.60" r="1.3" fill="#fff" stroke="#1d84e2" stroke-width="1.2"/>
<circle cx="489.47" cy="296.60" r="1.3" fill="#fff" stroke="#1d84e2" stroke-width="1.2"/>
<circle cx="502.86" cy="293.70" r="1.3" fill="#fff" stroke="#1d84e2" stroke-width="1.2"/>
<circle cx="516.25" cy="298.75" r="1.3" fill="#fff" stroke="#1d84e2" stroke-width="1.2"/>
<circle cx="529.64" cy="294.40" r="1.3" fill="#fff" stroke="#1d84e2" stroke-width="1.2"/>
<circle cx="543.03" cy="290.20" r="1.3" fill="#fff" stroke="#1d84e2" stroke-width="1.2"/>
<circle cx="556.42" cy="288.60" r="1.3" fill="#fff" stroke="#1d84e2" stroke-width="1.2"/>
<circle cx="569.81" cy="292.50" r="1.3" fill="#fff" stroke="#1d84e2" stroke-width="1.2"/>
<circle cx="583.20" cy="297.80" r="1.3" fill="#fff" stroke="#1d84e2" stroke-width="1.2"/>
<line x1="179" y1="306.50" x2="583.5" y2="306.50" stroke="#6e7079" stroke-width="1"/>
<line x1="181.5" y1="265.25" x2="181.5" y2="306.00" stroke="#eef0f4" stroke-width="0.6"/>
<line x1="181.50" y1="306.50" x2="181.50" y2="308.90" stroke="#6e7079" stroke-width="0.8"/>
<text x="181.50" y="315.20" class="xt">2023-10-18</text>
<line x1="235.06" y1="306.50" x2="235.06" y2="308.90" stroke="#6e7079" stroke-width="0.8"/>
<text x="235.06" y="315.20" class="xt">2023-10-22</text>
<line x1="288.62" y1="306.50" x2="288.62" y2="308.90" stroke="#6e7079" stroke-width="0.8"/>
<text x="288.62" y="315.20" class="xt">2023-10-26</text>
<line x1="342.18" y1="306.50" x2="342.18" y2="308.90" stroke="#6e7079" stroke-width="0.8"/>
<text x="342.18" y="315.20" class="xt">2023-10-30</text>
<line x1="395.74" y1="306.50" x2="395.74" y2="308.90" stroke="#6e7079" stroke-width="0.8"/>
<text x="395.74" y="315.20" class="xt">2023-11-03</text>
<line x1="449.30" y1="306.50" x2="449.30" y2="308.90" stroke="#6e7079" stroke-width="0.8"/>
<text x="449.30" y="315.20" class="xt">2023-11-07</text>
<line x1="502.86" y1="306.50" x2="502.86" y2="308.90" stroke="#6e7079" stroke-width="0.8"/>
<text x="502.86" y="315.20" class="xt">2023-11-11</text>
<line x1="556.42" y1="306.50" x2="556.42" y2="308.90" stroke="#6e7079" stroke-width="0.8"/>
<text x="556.42" y="315.20" class="xt">2023-11-15</text>
<text x="0" y="0" class="ytt" transform="translate(154.5,285.62) rotate(-90)">WEI 风效指数</text>
<text x="597" y="265.30" class="lgt">WEI 风效指数</text>
<line x1="594" y1="268.10" x2="640" y2="268.10" stroke="#777" stroke-width="0.8"/>
<text x="595" y="275.20" class="lgk">max:</text><text x="620" y="275.20" class="lgv">-270.6</text>
<text x="595" y="282.50" class="lgk">min:</text><text x="620" y="282.50" class="lgv">-783</text>
<text x="595" y="289.60" class="lgk">avg:</text><text x="620" y="289.60" class="lgv">-474.9</text>
</svg>

<!-- table -->
<div id="tblwrap" class="a" style="border-left:0.8px solid #dde5ee;border-top:0.8px solid #dde5ee"></div>
<div class="tc" style="left:134.0px;top:323.8px;width:44.2px;height:10.2px;background:#e8f2fc;color:#333;line-height:10.2px">人体舒适度</div>
<div class="tc" style="left:178.2px;top:323.8px;width:31.2px;height:10.2px;background:#e8f2fc;color:#333;line-height:10.2px">-4级 很冷</div>
<div class="tc" style="left:209.5px;top:323.8px;width:34.8px;height:10.2px;background:#e8f2fc;color:#333;line-height:10.2px">-3级 冷</div>
<div class="tc" style="left:244.2px;top:323.8px;width:33.8px;height:10.2px;background:#e8f2fc;color:#333;line-height:10.2px">-2级 凉</div>
<div class="tc" style="left:278.0px;top:323.8px;width:34.5px;height:10.2px;background:#e8f2fc;color:#333;line-height:10.2px">-1级 凉爽</div>
<div class="tc" style="left:312.5px;top:323.8px;width:35.2px;height:10.2px;background:#e8f2fc;color:#333;line-height:10.2px">0级 舒适</div>
<div class="tc" style="left:347.7px;top:323.8px;width:34.6px;height:10.2px;background:#e8f2fc;color:#333;line-height:10.2px">1级 暖和</div>
<div class="tc" style="left:382.3px;top:323.8px;width:34.7px;height:10.2px;background:#e8f2fc;color:#333;line-height:10.2px">2级 暖</div>
<div class="tc" style="left:417.0px;top:323.8px;width:32.8px;height:10.2px;background:#e8f2fc;color:#333;line-height:10.2px">3级 热</div>
<div class="tc" style="left:449.8px;top:323.8px;width:28.7px;height:10.2px;background:#e8f2fc;color:#333;line-height:10.2px">4级 很热</div>
<div class="tc" style="left:134.0px;top:334.0px;width:44.2px;height:10.2px;background:#e8f2fc;color:#333;line-height:10.2px">DI舒适度指数</div>
<div class="tc" style="left:178.2px;top:334.0px;width:31.2px;height:10.2px;background:#1d84e2;color:#fff;line-height:10.2px"><25</div>
<div class="tc" style="left:209.5px;top:334.0px;width:34.8px;height:10.2px;background:#1ea3e6;color:#fff;line-height:10.2px">25~38</div>
<div class="tc" style="left:244.2px;top:334.0px;width:33.8px;height:10.2px;background:#1ebde0;color:#fff;line-height:10.2px">38~50</div>
<div class="tc" style="left:278.0px;top:334.0px;width:34.5px;height:10.2px;background:#26b382;color:#fff;line-height:10.2px">50~58</div>
<div class="tc" style="left:312.5px;top:334.0px;width:35.2px;height:10.2px;background:#5cc531;color:#fff;line-height:10.2px">58~70</div>
<div class="tc" style="left:347.7px;top:334.0px;width:34.6px;height:10.2px;background:#aad42a;color:#fff;line-height:10.2px">70~75</div>
<div class="tc" style="left:382.3px;top:334.0px;width:34.7px;height:10.2px;background:#e7d51f;color:#fff;line-height:10.2px">75~79</div>
<div class="tc" style="left:417.0px;top:334.0px;width:32.8px;height:10.2px;background:#fdb612;color:#fff;line-height:10.2px">79~85</div>
<div class="tc" style="left:449.8px;top:334.0px;width:28.7px;height:10.2px;background:#fb8410;color:#fff;line-height:10.2px">≥85</div>
<div class="tc" style="left:134.0px;top:344.2px;width:44.2px;height:10.2px;background:#e8f2fc;color:#333;line-height:10.2px">出现天数</div>
<div class="tc" style="left:178.2px;top:344.2px;width:31.2px;height:10.2px;background:#fff;color:#333;line-height:10.2px">5</div>
<div class="tc" style="left:209.5px;top:344.2px;width:34.8px;height:10.2px;background:#fff;color:#333;line-height:10.2px">7</div>
<div class="tc" style="left:244.2px;top:344.2px;width:33.8px;height:10.2px;background:#fff;color:#333;line-height:10.2px">7</div>
<div class="tc" style="left:278.0px;top:344.2px;width:34.5px;height:10.2px;background:#fff;color:#333;line-height:10.2px">12</div>
<div class="tc" style="left:312.5px;top:344.2px;width:35.2px;height:10.2px;background:#fff;color:#333;line-height:10.2px">0</div>
<div class="tc" style="left:347.7px;top:344.2px;width:34.6px;height:10.2px;background:#fff;color:#333;line-height:10.2px">0</div>
<div class="tc" style="left:382.3px;top:344.2px;width:34.7px;height:10.2px;background:#fff;color:#333;line-height:10.2px">0</div>
<div class="tc" style="left:417.0px;top:344.2px;width:32.8px;height:10.2px;background:#fff;color:#333;line-height:10.2px">0</div>
<div class="tc" style="left:449.8px;top:344.2px;width:28.7px;height:10.2px;background:#fff;color:#333;line-height:10.2px">0</div>
<div class="tc" style="left:134.0px;top:354.4px;width:44.2px;height:10.2px;background:#e8f2fc;color:#333;line-height:10.2px">所占比率</div>
<div class="tc" style="left:178.2px;top:354.4px;width:31.2px;height:10.2px;background:#fff;color:#333;line-height:10.2px">16.13%</div>
<div class="tc" style="left:209.5px;top:354.4px;width:34.8px;height:10.2px;background:#fff;color:#333;line-height:10.2px">22.58%</div>
<div class="tc" style="left:244.2px;top:354.4px;width:33.8px;height:10.2px;background:#fff;color:#333;line-height:10.2px">22.58%</div>
<div class="tc" style="left:278.0px;top:354.4px;width:34.5px;height:10.2px;background:#fff;color:#333;line-height:10.2px">38.71%</div>
<div class="tc" style="left:312.5px;top:354.4px;width:35.2px;height:10.2px;background:#fff;color:#333;line-height:10.2px">0.00%</div>
<div class="tc" style="left:347.7px;top:354.4px;width:34.6px;height:10.2px;background:#fff;color:#333;line-height:10.2px">0.00%</div>
<div class="tc" style="left:382.3px;top:354.4px;width:34.7px;height:10.2px;background:#fff;color:#333;line-height:10.2px">0.00%</div>
<div class="tc" style="left:417.0px;top:354.4px;width:32.8px;height:10.2px;background:#fff;color:#333;line-height:10.2px">0.00%</div>
<div class="tc" style="left:449.8px;top:354.4px;width:28.7px;height:10.2px;background:#fff;color:#333;line-height:10.2px">0.00%</div>
<div class="tc" style="left:134.0px;top:364.6px;width:44.2px;height:10.2px;background:#e8f2fc;color:#333;line-height:10.2px">THI温湿指数</div>
<div class="tc" style="left:178.2px;top:364.6px;width:31.2px;height:10.2px;background:#1d84e2;color:#fff;line-height:10.2px"><14</div>
<div class="tc" style="left:209.5px;top:364.6px;width:34.8px;height:10.2px;background:#1ea3e6;color:#fff;line-height:10.2px">14~17</div>
<div class="tc" style="left:244.2px;top:364.6px;width:33.8px;height:10.2px;background:#1ebde0;color:#fff;line-height:10.2px">17~18.5</div>
<div class="tc" style="left:278.0px;top:364.6px;width:34.5px;height:10.2px;background:#26b382;color:#fff;line-height:10.2px">18.5~20</div>
<div class="tc" style="left:312.5px;top:364.6px;width:35.2px;height:10.2px;background:#5cc531;color:#fff;line-height:10.2px">20~22.5</div>
<div class="tc" style="left:347.7px;top:364.6px;width:34.6px;height:10.2px;background:#aad42a;color:#fff;line-height:10.2px">22.5~24</div>
<div class="tc" style="left:382.3px;top:364.6px;width:34.7px;height:10.2px;background:#e7d51f;color:#fff;line-height:10.2px">24~25.5</div>
<div class="tc" style="left:417.0px;top:364.6px;width:32.8px;height:10.2px;background:#fdb612;color:#fff;line-height:10.2px">25.5~27.5</div>
<div class="tc" style="left:449.8px;top:364.6px;width:28.7px;height:10.2px;background:#fb8410;color:#fff;line-height:10.2px">≥27.5</div>
<div class="tc" style="left:134.0px;top:374.9px;width:44.2px;height:10.2px;background:#e8f2fc;color:#333;line-height:10.2px">出现天数</div>
<div class="tc" style="left:178.2px;top:374.9px;width:31.2px;height:10.2px;background:#fff;color:#333;line-height:10.2px">14</div>
<div class="tc" style="left:209.5px;top:374.9px;width:34.8px;height:10.2px;background:#fff;color:#333;line-height:10.2px">16</div>
<div class="tc" style="left:244.2px;top:374.9px;width:33.8px;height:10.2px;background:#fff;color:#333;line-height:10.2px">1</div>
<div class="tc" style="left:278.0px;top:374.9px;width:34.5px;height:10.2px;background:#fff;color:#333;line-height:10.2px">0</div>
<div class="tc" style="left:312.5px;top:374.9px;width:35.2px;height:10.2px;background:#fff;color:#333;line-height:10.2px">0</div>
<div class="tc" style="left:347.7px;top:374.9px;width:34.6px;height:10.2px;background:#fff;color:#333;line-height:10.2px">0</div>
<div class="tc" style="left:382.3px;top:374.9px;width:34.7px;height:10.2px;background:#fff;color:#333;line-height:10.2px">0</div>
<div class="tc" style="left:417.0px;top:374.9px;width:32.8px;height:10.2px;background:#fff;color:#333;line-height:10.2px">0</div>
<div class="tc" style="left:449.8px;top:374.9px;width:28.7px;height:10.2px;background:#fff;color:#333;line-height:10.2px">0</div>
<div class="tc" style="left:134.0px;top:385.1px;width:44.2px;height:10.2px;background:#e8f2fc;color:#333;line-height:10.2px">所占比率</div>
<div class="tc" style="left:178.2px;top:385.1px;width:31.2px;height:10.2px;background:#fff;color:#333;line-height:10.2px">45.16%</div>
<div class="tc" style="left:209.5px;top:385.1px;width:34.8px;height:10.2px;background:#fff;color:#333;line-height:10.2px">51.61%</div>
<div class="tc" style="left:244.2px;top:385.1px;width:33.8px;height:10.2px;background:#fff;color:#333;line-height:10.2px">3.23%</div>
<div class="tc" style="left:278.0px;top:385.1px;width:34.5px;height:10.2px;background:#fff;color:#333;line-height:10.2px">0.00%</div>
<div class="tc" style="left:312.5px;top:385.1px;width:35.2px;height:10.2px;background:#fff;color:#333;line-height:10.2px">0.00%</div>
<div class="tc" style="left:347.7px;top:385.1px;width:34.6px;height:10.2px;background:#fff;color:#333;line-height:10.2px">0.00%</div>
<div class="tc" style="left:382.3px;top:385.1px;width:34.7px;height:10.2px;background:#fff;color:#333;line-height:10.2px">0.00%</div>
<div class="tc" style="left:417.0px;top:385.1px;width:32.8px;height:10.2px;background:#fff;color:#333;line-height:10.2px">0.00%</div>
<div class="tc" style="left:449.8px;top:385.1px;width:28.7px;height:10.2px;background:#fff;color:#333;line-height:10.2px">0.00%</div>
<div class="tc" style="left:134.0px;top:395.3px;width:44.2px;height:10.2px;background:#e8f2fc;color:#333;line-height:10.2px">WEI风效指数</div>
<div class="tc" style="left:178.2px;top:395.3px;width:31.2px;height:10.2px;background:#1d84e2;color:#fff;line-height:10.2px"><-400</div>
<div class="tc" style="left:209.5px;top:395.3px;width:34.8px;height:10.2px;background:#1ea3e6;color:#fff;line-height:10.2px">-400~-300</div>
<div class="tc" style="left:244.2px;top:395.3px;width:33.8px;height:10.2px;background:#1ebde0;color:#fff;line-height:10.2px">-300~-260</div>
<div class="tc" style="left:278.0px;top:395.3px;width:34.5px;height:10.2px;background:#26b382;color:#fff;line-height:10.2px">-260~-220</div>
<div class="tc" style="left:312.5px;top:395.3px;width:35.2px;height:10.2px;background:#5cc531;color:#fff;line-height:10.2px">-220~-180</div>
<div class="tc" style="left:347.7px;top:395.3px;width:34.6px;height:10.2px;background:#aad42a;color:#fff;line-height:10.2px">-180~-140</div>
<div class="tc" style="left:382.3px;top:395.3px;width:34.7px;height:10.2px;background:#e7d51f;color:#fff;line-height:10.2px">-140~-100</div>
<div class="tc" style="left:417.0px;top:395.3px;width:32.8px;height:10.2px;background:#fdb612;color:#fff;line-height:10.2px">-100~-10</div>
<div class="tc" style="left:449.8px;top:395.3px;width:28.7px;height:10.2px;background:#fb8410;color:#fff;line-height:10.2px">≥-10</div>
<div class="tc" style="left:134.0px;top:405.6px;width:44.2px;height:10.2px;background:#e8f2fc;color:#333;line-height:10.2px">出现天数</div>
<div class="tc" style="left:178.2px;top:405.6px;width:31.2px;height:10.2px;background:#fff;color:#333;line-height:10.2px">15</div>
<div class="tc" style="left:209.5px;top:405.6px;width:34.8px;height:10.2px;background:#fff;color:#333;line-height:10.2px">14</div>
<div class="tc" style="left:244.2px;top:405.6px;width:33.8px;height:10.2px;background:#fff;color:#333;line-height:10.2px">2</div>
<div class="tc" style="left:278.0px;top:405.6px;width:34.5px;height:10.2px;background:#fff;color:#333;line-height:10.2px">0</div>
<div class="tc" style="left:312.5px;top:405.6px;width:35.2px;height:10.2px;background:#fff;color:#333;line-height:10.2px">0</div>
<div class="tc" style="left:347.7px;top:405.6px;width:34.6px;height:10.2px;background:#fff;color:#333;line-height:10.2px">0</div>
<div class="tc" style="left:382.3px;top:405.6px;width:34.7px;height:10.2px;background:#fff;color:#333;line-height:10.2px">0</div>
<div class="tc" style="left:417.0px;top:405.6px;width:32.8px;height:10.2px;background:#fff;color:#333;line-height:10.2px">0</div>
<div class="tc" style="left:449.8px;top:405.6px;width:28.7px;height:10.2px;background:#fff;color:#333;line-height:10.2px">0</div>
<div class="tc" style="left:134.0px;top:415.8px;width:44.2px;height:10.2px;background:#e8f2fc;color:#333;line-height:10.2px">所占比率</div>
<div class="tc" style="left:178.2px;top:415.8px;width:31.2px;height:10.2px;background:#fff;color:#333;line-height:10.2px">48.39%</div>
<div class="tc" style="left:209.5px;top:415.8px;width:34.8px;height:10.2px;background:#fff;color:#333;line-height:10.2px">45.16%</div>
<div class="tc" style="left:244.2px;top:415.8px;width:33.8px;height:10.2px;background:#fff;color:#333;line-height:10.2px">6.45%</div>
<div class="tc" style="left:278.0px;top:415.8px;width:34.5px;height:10.2px;background:#fff;color:#333;line-height:10.2px">0.00%</div>
<div class="tc" style="left:312.5px;top:415.8px;width:35.2px;height:10.2px;background:#fff;color:#333;line-height:10.2px">0.00%</div>
<div class="tc" style="left:347.7px;top:415.8px;width:34.6px;height:10.2px;background:#fff;color:#333;line-height:10.2px">0.00%</div>
<div class="tc" style="left:382.3px;top:415.8px;width:34.7px;height:10.2px;background:#fff;color:#333;line-height:10.2px">0.00%</div>
<div class="tc" style="left:417.0px;top:415.8px;width:32.8px;height:10.2px;background:#fff;color:#333;line-height:10.2px">0.00%</div>
<div class="tc" style="left:449.8px;top:415.8px;width:28.7px;height:10.2px;background:#fff;color:#333;line-height:10.2px">0.00%</div>

<div id="pie" class="a"></div>
<div id="pieT" class="a">舒适度指数等级天数</div>
<svg class="a" style="left:0;top:0" width="640" height="480" viewBox="0 0 640 480">
<path d="M563.00,341.60 A38.80,38.80 0 0 1 595.93,359.88 L586.93,365.48 A28.20,28.20 0 0 0 563.00,352.20 Z" fill="#1d84e2"/>
<path d="M595.93,359.88 A38.80,38.80 0 0 1 588.27,409.84 L581.37,401.80 A28.20,28.20 0 0 0 586.93,365.48 Z" fill="#1ea3e6"/>
<path d="M588.27,409.84 A38.80,38.80 0 0 1 537.73,409.84 L544.63,401.80 A28.20,28.20 0 0 0 581.37,401.80 Z" fill="#1ebde0"/>
<path d="M537.73,409.84 A38.80,38.80 0 0 1 563.00,341.60 L563.00,352.20 A28.20,28.20 0 0 0 544.63,401.80 Z" fill="#26b382"/>
<path d="M563.00,354.90 A25.50,25.50 0 0 1 565.58,405.77 L564.33,393.43 A13.10,13.10 0 0 0 563.00,367.30 Z" fill="#1d84e2" stroke="#fff" stroke-opacity="0.15" stroke-width="0.4"/>
<path d="M565.58,405.77 A25.50,25.50 0 0 1 552.94,356.97 L557.83,368.36 A13.10,13.10 0 0 0 564.33,393.43 Z" fill="#1ea3e6" stroke="#fff" stroke-opacity="0.15" stroke-width="0.4"/>
<path d="M552.94,356.97 A25.50,25.50 0 0 1 563.00,354.90 L563.00,367.30 A13.10,13.10 0 0 0 557.83,368.36 Z" fill="#1ebde0" stroke="#fff" stroke-opacity="0.15" stroke-width="0.4"/>
<path d="M563.00,380.40 L563.00,367.30 A13.10,13.10 0 0 1 566.92,392.90 Z" fill="#1d84e2" stroke="#fff" stroke-opacity="0.15" stroke-width="0.4"/>
<path d="M563.00,380.40 L566.92,392.90 A13.10,13.10 0 1 1 560.36,367.57 Z" fill="#1ea3e6" stroke="#fff" stroke-opacity="0.15" stroke-width="0.4"/>
<path d="M563.00,380.40 L560.36,367.57 A13.10,13.10 0 0 1 563.00,367.30 Z" fill="#1ebde0" stroke="#fff" stroke-opacity="0.15" stroke-width="0.4"/>
<circle cx="563.0" cy="380.4" r="13.1" fill="none" stroke="#ffffff" stroke-opacity="0.22" stroke-width="0.5"/>
<g stroke-width="0.6" fill="none" stroke-opacity="0.8">
<path d="M586 346.5 L592 346.5" stroke="#1d84e2"/>
<path d="M600 386 L609 386" stroke="#1ea3e6"/>
<path d="M553 417.5 L550 415" stroke="#1ebde0"/>
<path d="M518 366 L526 366" stroke="#26b382"/>
</g>
<text x="592.5" y="348.6" class="pl">很冷 5天</text>
<text x="610" y="388" class="pl">冷 7天</text>
<text x="535" y="420" class="pl">凉 7天</text>
<text x="489" y="368.3" class="pl">凉爽 12天</text>
</svg>

<div id="ftr" class="a"></div>
<div class="fl a" style="top:450.5px">Copyright © 北京华创慧智科技开发有限责任公司 &nbsp;&nbsp; All rights reserved &nbsp;&nbsp; 华创云观测论坛 | 联系我们 | 服务条款</div>
<div class="fl a" style="top:462.5px">全国免费咨询与售后热线：400-610-1080 800-810-1080</div>
<div class="fl a" style="top:474px">技术支持：186 10 63772788/86/91 &nbsp;&nbsp; 通讯地址：北京市丰台区汽配城路6号院二期王府井大厦</div>
</body>
</html>
